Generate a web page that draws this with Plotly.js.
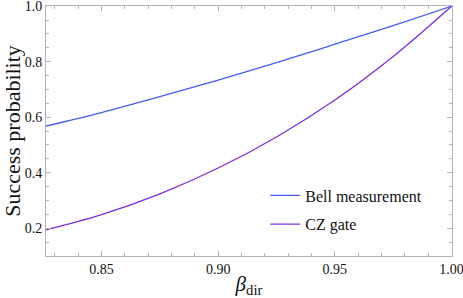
<!DOCTYPE html>
<html>
<head>
<meta charset="utf-8">
<script src="https://cdn.plot.ly/plotly-3.0.1.min.js"></script>
<style>html,body{margin:0;padding:0;background:#fff;}#chart{width:463px;height:298px;}</style>
</head>
<body>
<div id="chart"></div>
<script>
const beta = [0.826, 0.85, 0.875, 0.9, 0.925, 0.95, 0.975, 1.0];
const bellSuccess = [0.568, 0.617, 0.674, 0.734, 0.797, 0.863, 0.930, 1.0];
const czSuccess = [0.194, 0.249, 0.324, 0.417, 0.529, 0.662, 0.819, 1.0];
const seriesNames = ["Bell measurement", "CZ gate"];
const xTicks = [0.85, 0.90, 0.95, 1.00];
const xTickText = ["0.85", "0.90", "0.95", "1.00"];
const yTicks = [0.2, 0.4, 0.6, 0.8, 1.0];
const yTickText = ["0.2", "0.4", "0.6", "0.8", "1.0"];

const font = "Liberation Serif";
const frameColor = "#b4b4b4";

const traces = [
  {x: beta, y: bellSuccess, name: seriesNames[0], mode: "lines", legendgroup: "a",
   line: {color: "#3f5efb", width: 1.3, shape: "spline", smoothing: 1}},
  {x: beta, y: czSuccess, name: seriesNames[1], mode: "lines", legendgroup: "b",
   line: {color: "#7b2fe0", width: 1.3, shape: "spline", smoothing: 1}}
];

function axisCommon() {
  return {
    showgrid: false, zeroline: false, showline: true, mirror: "ticks",
    linecolor: frameColor, linewidth: 1, ticks: "inside", ticklen: 5,
    tickcolor: frameColor, ticklabeloverflow: "allow",
    tickfont: {family: font, size: 14, color: "#111"}
  };
}

const layout = {
  width: 463, height: 298,
  margin: {l: 46, r: 11, t: 6, b: 42},
  paper_bgcolor: "#fff", plot_bgcolor: "#fff",
  font: {family: font, color: "#111"},
  xaxis: Object.assign(axisCommon(), {
    range: [0.8262, 1.0002], tickmode: "array", tickvals: xTicks, ticktext: xTickText,
    minor: {dtick: 0.01, ticks: "inside", ticklen: 3, tickcolor: frameColor},
    title: {text: "<i>β</i><sub>dir</sub>", font: {family: font, size: 21, color: "#111"}, standoff: 6}
  }),
  yaxis: Object.assign(axisCommon(), {
    range: [0.1, 1.0008], tickmode: "array", tickvals: yTicks, ticktext: yTickText,
    minor: {dtick: 0.05, ticks: "inside", ticklen: 3, tickcolor: frameColor},
    title: {text: "Success probability", font: {family: font, size: 22, color: "#111"}, standoff: 4}
  }),
  showlegend: true,
  legend: {x: 0.54, y: 0.31, xanchor: "left", yanchor: "top", bgcolor: "rgba(0,0,0,0)",
           traceorder: "grouped", tracegroupgap: 5,
           font: {family: font, size: 16, color: "#111"}}
};

Plotly.newPlot("chart", traces, layout, {displayModeBar: false, staticPlot: true});
</script>
</body>
</html>
